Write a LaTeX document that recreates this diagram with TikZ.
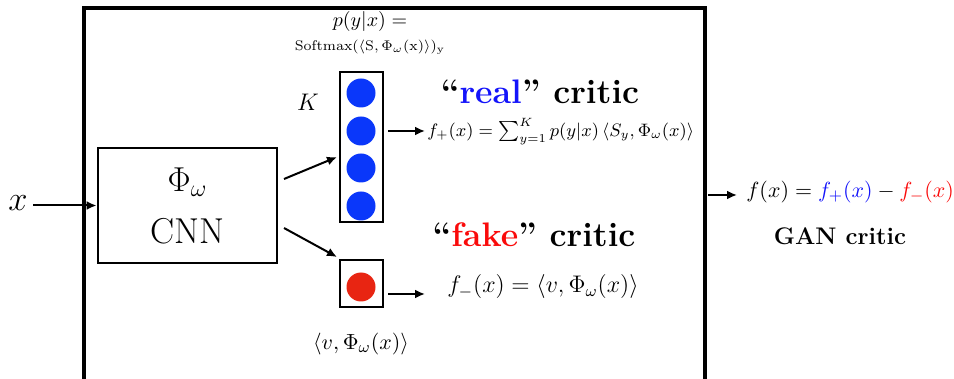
\documentclass[tikz,border=0pt]{standalone}
\usetikzlibrary{arrows.meta}
\definecolor{cblue}{RGB}{10,55,250}
\definecolor{cred}{RGB}{232,37,18}
\definecolor{tblue}{RGB}{20,20,250}
\definecolor{tred}{RGB}{250,10,10}
\tikzset{
  frame/.style={draw, line width=1.6pt},
  boxline/.style={draw, line width=1.4pt},
  conn/.style={line width=1pt, -{Latex[length=5pt,width=4.5pt]}},
  dot/.style={circle, inner sep=0pt, minimum size=14.5pt},
  lbl/.style={inner sep=0.5pt},
}
\begin{document}
\begin{tikzpicture}[x=0.5pt,y=-0.5pt]
\useasboundingbox (0,0) rectangle (954,379);
% big frame (extends beyond bottom)
\draw[frame] (84,8) rectangle (705,400);
% CNN box
\node[boxline, minimum width=89.5pt, minimum height=57.5pt, inner sep=0pt, align=center,
  font=\fontsize{18}{26}\selectfont] (cnn) at (187.5,205.5) {$\Phi_\omega$\\CNN};
% input
\node[lbl, font=\fontsize{17}{20}\selectfont] (x) at (18,203) {$x$};
\coordinate (xa) at (33,205.5);
\draw[conn] (xa) -- (cnn.west);
% blue column
\node[boxline, minimum width=21.5pt, minimum height=75pt, inner sep=0pt] (blue) at (361.5,147) {};
\node[dot, fill=cblue] (b1) at (361,93) {};
\node[dot, fill=cblue] (b2) at (361,131) {};
\node[dot, fill=cblue] (b3) at (361,168) {};
\node[dot, fill=cblue] (b4) at (361,206) {};
% red box
\node[boxline, minimum width=21.5pt, minimum height=23.5pt, inner sep=0pt] (red) at (361.5,283.5) {};
\node[dot, fill=cred] (r1) at (361,287) {};
% CNN arrows
\coordinate (c1) at (284,179);
\coordinate (c2) at (284,228);
\coordinate (t1) at (337,157);
\coordinate (t2) at (337,257);
\draw[conn] (c1) -- (t1);
\draw[conn] (c2) -- (t2);
% labels
\node[lbl, font=\fontsize{12}{14}\selectfont] (K) at (308,102) {$K$};
\node[lbl, font=\fontsize{10}{12}\selectfont] (p) at (370,22) {$p(y|x) =$};
\node[lbl, font=\fontsize{7.3}{9}\selectfont] (soft) at (370,47) {$\mathrm{Softmax}(\langle \mathrm{S},\Phi_\omega(\mathrm{x})\rangle)_\mathrm{y}$};
\node[lbl, font=\fontsize{17}{20}\selectfont\bfseries] (real) at (540,92) {``\textcolor{tblue}{real}''\ critic};
\node[lbl, font=\fontsize{17}{20}\selectfont\bfseries] (fake) at (534,235) {``\textcolor{tred}{fake}''\ critic};
\node[lbl, font=\fontsize{8.9}{10}\selectfont, anchor=west] (fplus) at (426,132) {$f_+(x) = \sum_{y=1}^{K} p(y|x)\,\langle S_y,\Phi_\omega(x)\rangle$};
\node[lbl, font=\fontsize{11.6}{13}\selectfont] (fminus) at (543,287) {$f_-(x) = \langle v,\Phi_\omega(x)\rangle$};
\node[lbl, font=\fontsize{11.4}{13}\selectfont] (vphi) at (361,344) {$\langle v,\Phi_\omega(x)\rangle$};
\coordinate (ba) at (388,131);
\coordinate (bb) at (425,131);
\coordinate (ra) at (388,294);
\coordinate (ra2) at (425,294);
\draw[conn] (ba) -- (bb);
\draw[conn] (ra) -- (ra2);
% output
\node[lbl, font=\fontsize{10.8}{12}\selectfont, anchor=west] (fx) at (745,192) {$f(x) = \textcolor{tblue}{f_+(x)} - \textcolor{tred}{f_-(x)}$};
\node[lbl, font=\fontsize{12}{14}\selectfont\bfseries] (gan) at (840,236) {GAN critic};
\coordinate (oa) at (708,195);
\coordinate (ob) at (737,195);
\draw[conn] (oa) -- (ob);
\end{tikzpicture}
\end{document}
